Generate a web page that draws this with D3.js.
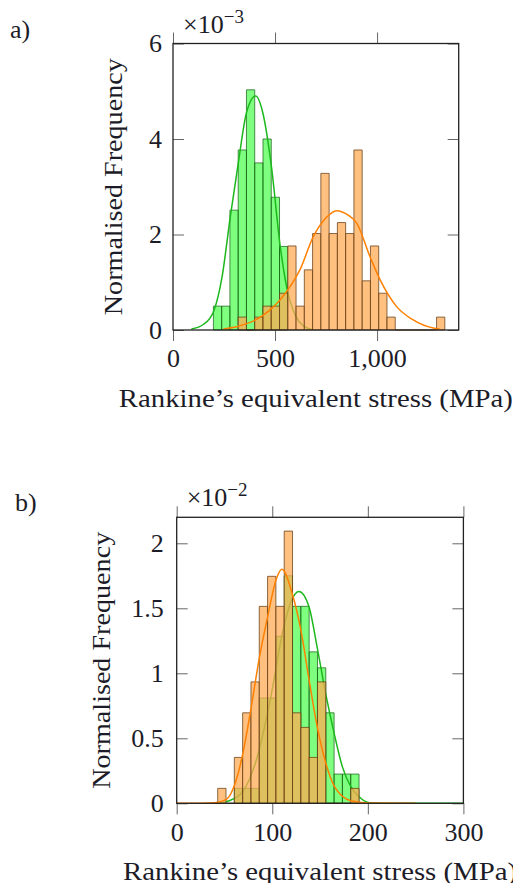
<!DOCTYPE html>
<html>
<head>
<meta charset="utf-8">
<script src="https://cdn.jsdelivr.net/npm/d3@7"></script>
<style>
  body { margin: 0; background: #fff; overflow: hidden; }
  svg { display: block; font-family: 'Liberation Serif', 'DejaVu Serif', serif; }
</style>
</head>
<body>
<div id="wrapper"></div>
<script>
// ---- data (a): stress in MPa, frequency x 1e-3 ----
const aEdges = [198, 238.5, 279, 319.5, 360, 400.5, 441, 481.5, 522, 562.5, 603, 643.5,
  684, 724.5, 765, 805.5, 846, 886.5, 927, 967.5, 1008, 1048.5, 1089, 1129.5, 1170,
  1210.5, 1251, 1291.5, 1332];
const aGreenStart = 0;
const aGreen = [0.5, 0.5, 2.51, 3.77, 5.03, 3.5, 4.0, 2.78, 1.75];
const aOrangeStart = 3;
const aOrange = [0.27, 0, 0.27, 0.5, 0.5, 0.77, 1.76, 0.5, 1.26, 2.02, 3.28, 2.02, 2.25,
  2.02, 3.77, 1.03, 1.76, 0.77, 0.27, 0, 0, 0, 0, 0, 0.27];
const aGreenFitX = [90, 150, 200, 240, 280, 320, 360, 405, 440, 483, 524, 557, 600, 640, 680];
const aGreenFitY = [0.02, 0.12, 0.4, 1.1, 2.35, 3.5, 4.55, 4.9, 4.55, 3.4, 1.8, 0.9, 0.3, 0.08, 0.01];
const aOrangeFitX = [247, 320, 400, 470, 524, 580, 622, 687, 750, 802, 860, 900, 966, 1015,
  1096, 1177, 1275, 1306];
const aOrangeFitY = [0.02, 0.08, 0.2, 0.4, 0.63, 0.95, 1.26, 1.95, 2.35, 2.5, 2.4, 2.24, 1.53,
  1.05, 0.49, 0.21, 0.04, 0.02];
const aXTicks = [0, 500, 1000];
const aYTicks = [0, 2, 4, 6];

// ---- data (b): stress in MPa, frequency x 1e-2 ----
const bEdges = [42.9, 51.6, 60.3, 69.0, 77.7, 86.4, 95.1, 103.8, 112.5, 121.2, 129.9, 138.6,
  147.3, 156.0, 164.7, 173.4, 182.1, 190.8];
const bGreenStart = 2;
const bGreen = [0.115, 0.115, 0.115, 0.81, 0.81, 1.285, 1.75, 1.515, 1.515, 1.165, 1.042,
  0.696, 0.225, 0.225, 0.225];
const bOrangeStart = 0;
const bOrange = [0.115, 0, 0.353, 0.696, 0.934, 1.515, 1.746, 1.515, 2.094, 0.696, 0.584,
  0.353, 0.934, 0, 0, 0, 0.115];
const bGreenFitX = [40, 55, 70, 84, 98, 111, 120, 128, 138.5, 147, 156, 164.7, 173.4, 182,
  190.8, 202, 230, 300];
const bGreenFitY = [0, 0.02, 0.1, 0.35, 0.8, 1.32, 1.56, 1.63, 1.51, 1.2, 0.84, 0.54, 0.28,
  0.13, 0.05, 0.005, 0, 0];
const bOrangeFitX = [0, 40, 52, 61, 70, 78, 86, 95, 104, 110, 121, 130, 138.5, 147, 156,
  165, 182, 200, 250];
const bOrangeFitY = [0, 0.005, 0.03, 0.15, 0.41, 0.74, 1.1, 1.43, 1.72, 1.8, 1.61, 1.33,
  0.95, 0.59, 0.31, 0.13, 0.02, 0.003, 0];
const bXTicks = [0, 100, 200, 300];
const bYTicks = [0, 0.5, 1, 1.5, 2];

const svg = d3
  .select('#wrapper')
  .append('svg')
  .attr('width', 513)
  .attr('height', 883);

function drawPanel(p) {
  const xScale = d3.scaleLinear().domain(p.xDomain).range([p.left, p.right]);
  const yScale = d3.scaleLinear().domain(p.yDomain).range([p.bottom, p.top]);
  const g = svg.append('g');

  // bars drawn as paths so empty bins still leave their outline on the baseline
  const drawBars = (values, start, fill, opacity, stroke) => {
    g.append('g')
      .selectAll('path')
      .data(values)
      .join('path')
      .attr('d', (d, i) => {
        const x0 = xScale(p.edges[start + i]);
        const x1 = xScale(p.edges[start + i + 1]);
        const y0 = yScale(0);
        const y1 = yScale(d);
        return `M${x0},${y0}V${y1}H${x1}V${y0}Z`;
      })
      .attr('fill', fill)
      .attr('fill-opacity', opacity)
      .attr('stroke', stroke)
      .attr('stroke-width', 1);
  };

  const line = d3
    .line()
    .x((d) => xScale(d[0]))
    .y((d) => yScale(d[1]))
    .curve(d3.curveMonotoneX);

  const drawFit = (xs, ys, color) => {
    g.append('path')
      .datum(xs.map((x, i) => [x, ys[i]]))
      .attr('d', line)
      .attr('fill', 'none')
      .attr('stroke', color)
      .attr('stroke-width', 1.5);
  };

  drawBars(p.green, p.greenStart, '#00ff00', 0.5, 'rgba(20,90,20,0.7)');
  drawFit(p.greenFitX, p.greenFitY, '#1cb81c');
  drawBars(p.orange, p.orangeStart, '#ffaa53', 0.74, 'rgba(100,60,20,0.75)');
  drawFit(p.orangeFitX, p.orangeFitY, '#ff8000');

  // axes: x ticks point outwards, y ticks inwards
  const styleAxis = (sel) => {
    sel.select('.domain').remove();
    sel.selectAll('.tick line').attr('stroke', '#666').attr('stroke-width', 1);
    sel.attr('font-family', null).attr('font-size', 26);
    sel.selectAll('text').attr('fill', '#1c1c28');
  };

  g.append('g')
    .attr('transform', `translate(0,${p.bottom})`)
    .call(d3.axisBottom(xScale).tickValues(p.xTicks).tickSize(11).tickPadding(8).tickFormat(d3.format(',')))
    .call(styleAxis);
  g.append('g')
    .attr('transform', `translate(0,${p.top})`)
    .call(d3.axisTop(xScale).tickValues(p.xTicks).tickSize(11).tickFormat(''))
    .call(styleAxis);
  g.append('g')
    .attr('transform', `translate(${p.left},0)`)
    .call(d3.axisLeft(yScale).tickValues(p.yTicks).tickSize(-11).tickPadding(p.yPad).tickFormat((d) => String(d)))
    .call(styleAxis);
  g.append('g')
    .attr('transform', `translate(${p.right},0)`)
    .call(d3.axisRight(yScale).tickValues(p.yTicks).tickSize(-11).tickFormat(''))
    .call(styleAxis);

  g.append('rect')
    .attr('x', p.left)
    .attr('y', p.top)
    .attr('width', p.right - p.left)
    .attr('height', p.bottom - p.top)
    .attr('fill', 'none')
    .attr('stroke', '#222')
    .attr('stroke-width', 1.3);

  // labels
  g.append('text')
    .attr('x', (p.left + p.right) / 2)
    .attr('y', p.bottom + 77)
    .attr('text-anchor', 'middle')
    .attr('font-size', 26)
    .attr('fill', '#1c1c28')
    .attr('textLength', 394)
    .attr('lengthAdjust', 'spacingAndGlyphs')
    .text('Rankine’s equivalent stress (MPa)');

  g.append('text')
    .attr('transform', `translate(${p.yLabelX},${(p.top + p.bottom) / 2}) rotate(-90)`)
    .attr('text-anchor', 'middle')
    .attr('font-size', 26)
    .attr('fill', '#1c1c28')
    .attr('textLength', 257)
    .attr('lengthAdjust', 'spacingAndGlyphs')
    .text('Normalised Frequency');

  g.append('text')
    .attr('x', p.tagX)
    .attr('y', p.tagY)
    .attr('font-size', 26)
    .attr('fill', '#1c1c28')
    .text(p.tag);

  const mult = g
    .append('text')
    .attr('x', p.left + 10)
    .attr('y', p.top - 11)
    .attr('font-size', 26)
    .attr('fill', '#1c1c28');
  mult.append('tspan').text('×10');
  mult.append('tspan').attr('font-size', 19).attr('dy', -10).text(p.exp);
}

drawPanel({
  left: 173, right: 458.7, top: 43.5, bottom: 330,
  xDomain: [0, 1400], yDomain: [0, 6],
  edges: aEdges,
  green: aGreen, greenStart: aGreenStart, orange: aOrange, orangeStart: aOrangeStart,
  greenFitX: aGreenFitX, greenFitY: aGreenFitY, orangeFitX: aOrangeFitX, orangeFitY: aOrangeFitY,
  xTicks: aXTicks, yTicks: aYTicks, yPad: 11, yLabelX: 122,
  tag: 'a)', tagX: 10, tagY: 38, exp: '−3',
});

drawPanel({
  left: 176.7, right: 463.4, top: 517.3, bottom: 803.3,
  xDomain: [0, 300], yDomain: [0, 2.2],
  edges: bEdges,
  green: bGreen, greenStart: bGreenStart, orange: bOrange, orangeStart: bOrangeStart,
  greenFitX: bGreenFitX, greenFitY: bGreenFitY, orangeFitX: bOrangeFitX, orangeFitY: bOrangeFitY,
  xTicks: bXTicks, yTicks: bYTicks, yPad: 13, yLabelX: 110,
  tag: 'b)', tagX: 15, tagY: 511, exp: '−2',
});
</script>
</body>
</html>
